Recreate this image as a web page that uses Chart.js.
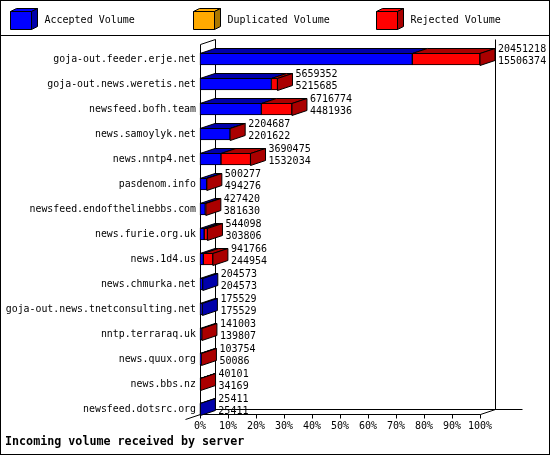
<!DOCTYPE html>
<html>
<head>
<meta charset="utf-8">
<script src="https://cdn.jsdelivr.net/npm/chart.js@4/dist/chart.umd.min.js"></script>
<style>
  html, body { margin: 0; padding: 0; background: #fff; }
  #wrap { width: 550px; height: 455px; }
</style>
</head>
<body>
<div id="wrap"><canvas id="volumeChart" width="550" height="455"></canvas></div>
<script>
// Servers feeding us, with offered (total) and accepted volume in bytes
const servers = [
    'goja-out.feeder.erje.net', 'goja-out.news.weretis.net', 'newsfeed.bofh.team',
    'news.samoylyk.net', 'news.nntp4.net', 'pasdenom.info',
    'newsfeed.endofthelinebbs.com', 'news.furie.org.uk', 'news.1d4.us',
    'news.chmurka.net', 'goja-out.news.tnetconsulting.net', 'nntp.terraraq.uk',
    'news.quux.org', 'news.bbs.nz', 'newsfeed.dotsrc.org'
];
const offeredVolume = [20451218, 5659352, 6716774, 2204687, 3690475, 500277, 427420, 544098,
    941766, 204573, 175529, 141003, 103754, 40101, 25411];
const acceptedVolume = [15506374, 5215685, 4481936, 2201622, 1532034, 494276, 381630, 303806,
    244954, 204573, 175529, 139807, 50086, 34169, 25411];
const duplicatedVolume = [0, 0, 0, 0, 0, 0, 0, 0, 0, 0, 0, 0, 0, 0, 0];
const xTicks = [0, 10, 20, 30, 40, 50, 60, 70, 80, 90, 100];

const MONO = '"DejaVu Sans Mono", "Liberation Mono", monospace';
const DX = 15, DY = 5;   // 3d depth of the bars

// bars are scaled against the biggest offered volume
const maxOffered = Math.max(...offeredVolume);
const pct = v => v / maxOffered * 100;
const rejectedVolume = offeredVolume.map((v, i) => v - acceptedVolume[i] - duplicatedVolume[i]);

function poly(ctx, pts, fill) {
    ctx.beginPath();
    ctx.moveTo(pts[0][0], pts[0][1]);
    for (let k = 1; k < pts.length; k++) ctx.lineTo(pts[k][0], pts[k][1]);
    ctx.closePath();
    ctx.fillStyle = fill;
    ctx.fill();
    ctx.stroke();
}

function line(ctx, x1, y1, x2, y2) {
    ctx.beginPath();
    ctx.moveTo(x1, y1);
    ctx.lineTo(x2, y2);
    ctx.stroke();
}

const boxPlugin = {
    id: 'box3d',
    beforeDatasetsDraw(chart) {
        const { ctx, chartArea: a } = chart;
        const x = chart.scales.x;
        const L = Math.round(a.left) + 0.5, R = Math.round(a.right) + 0.5;
        const yF = Math.round(a.bottom) + 5.5, yB = yF - DY;
        const top = Math.round(a.top) - 14.5;
        ctx.save();
        ctx.strokeStyle = '#000';
        ctx.lineWidth = 1;
        line(ctx, L, top, L, yF);                 // front axis
        line(ctx, L + DX, top - DY, L + DX, yB);  // back wall
        line(ctx, R + DX, top - DY, R + DX, yB);  // right wall
        line(ctx, L, top, L + DX, top - DY);
        line(ctx, L, yF, R, yF);                  // floor front
        line(ctx, L + DX, yB, R + 42, yB);        // floor back
        line(ctx, L - DX, yF + DY, L + DX, yB);
        line(ctx, R, yF, R + DX, yB);
        xTicks.forEach(t => {
            const px = Math.round(x.getPixelForValue(t)) + 0.5;
            line(ctx, px, yF, px, yF + 4);
        });
        ctx.restore();
    },
    afterDatasetsDraw(chart) {
        const { ctx } = chart;
        ctx.save();
        ctx.strokeStyle = '#000';
        ctx.lineWidth = 1;
        chart.data.labels.forEach((lbl, i) => {
            let last = null, endX = 0, yc = 0;
            chart.data.datasets.forEach((ds, d) => {
                const el = chart.getDatasetMeta(d).data[i];
                const p = el.getProps(['x', 'base', 'y', 'height'], true);
                yc = p.y;
                if (!ds.data[i]) return;
                const t = Math.round(p.y - p.height / 2) + 0.5;
                poly(ctx, [[p.base, t], [p.x, t], [p.x + DX, t - DY], [p.base + DX, t - DY]], ds.sideColor);
                last = { ds, p, t };
                endX = Math.max(endX, p.x);
            });
            if (last) {
                const { ds, p, t } = last;
                const b = t + p.height;
                poly(ctx, [[p.x, t], [p.x + DX, t - DY], [p.x + DX, b - DY], [p.x, b]], ds.sideColor);
            }
            ctx.fillStyle = '#000';
            ctx.font = '10px ' + MONO;
            ctx.textAlign = 'left';
            ctx.textBaseline = 'middle';
            ctx.fillText(String(offeredVolume[i]), endX + DX + 3, yc - 10);
            ctx.fillText(String(acceptedVolume[i]), endX + DX + 3, yc + 2);
        });
        ctx.restore();
    },
    afterDraw(chart) {
        const { ctx } = chart;
        ctx.save();
        ctx.strokeStyle = '#000';
        ctx.lineWidth = 1;
        ctx.strokeRect(0.5, 0.5, 549, 454);
        line(ctx, 0, 35.5, 550, 35.5);
        // legend with little cubes
        const lx = [10.5, 193.5, 376.5];
        chart.data.datasets.forEach((ds, d) => {
            const x0 = lx[d], y0 = 11.5, w = 21, h = 18;
            poly(ctx, [[x0, y0], [x0 + w, y0], [x0 + w, y0 + h], [x0, y0 + h]], ds.backgroundColor);
            poly(ctx, [[x0, y0], [x0 + 6, y0 - 3], [x0 + w + 6, y0 - 3], [x0 + w, y0]], ds.backgroundColor);
            poly(ctx, [[x0 + w, y0], [x0 + w + 6, y0 - 3], [x0 + w + 6, y0 + h - 3], [x0 + w, y0 + h]], ds.sideColor);
            ctx.fillStyle = '#000';
            ctx.font = '10px ' + MONO;
            ctx.textAlign = 'left';
            ctx.textBaseline = 'middle';
            ctx.fillText(ds.label, x0 + 34, 20.5);
        });
        ctx.restore();
    }
};

const ctx = document.getElementById('volumeChart').getContext('2d');
const volumeChart = new Chart(ctx, {
    type: 'bar',
    data: {
        labels: servers,
        datasets: [
            { label: 'Accepted Volume', data: acceptedVolume.map(pct), backgroundColor: '#0000ff', sideColor: '#0000aa' },
            { label: 'Duplicated Volume', data: duplicatedVolume.map(pct), backgroundColor: '#ffaa00', sideColor: '#aa7700' },
            { label: 'Rejected Volume', data: rejectedVolume.map(pct), backgroundColor: '#ff0000', sideColor: '#aa0000' }
        ]
    },
    options: {
        indexAxis: 'y',
        responsive: false,
        animation: false,
        layout: { padding: { left: 5, right: 70, top: 59, bottom: 2 } },
        datasets: {
            bar: { barThickness: 12, borderWidth: 1, borderColor: '#000', borderSkipped: false, clip: false }
        },
        plugins: {
            legend: { display: false },
            tooltip: { enabled: false },
            title: {
                display: true,
                position: 'bottom',
                align: 'start',
                text: 'Incoming volume received by server',
                color: '#000',
                font: { family: MONO, size: 11.7, weight: 'bold' },
                padding: { top: 2, bottom: 4 }
            }
        },
        scales: {
            x: {
                stacked: true,
                min: 0,
                max: 100,
                grid: { display: false, drawTicks: false },
                border: { display: false },
                afterBuildTicks: s => { s.ticks = xTicks.map(v => ({ value: v })); },
                afterFit: s => { s.height = 24; },
                ticks: {
                    color: '#000',
                    padding: 11,
                    maxRotation: 0,
                    autoSkip: false,
                    font: { family: MONO, size: 10 },
                    callback: v => v + '%'
                }
            },
            y: {
                stacked: true,
                offset: false,
                grid: { display: false, drawTicks: false },
                border: { display: false },
                afterFit: s => { s.width = 195; },
                ticks: {
                    color: '#000',
                    padding: 4,
                    autoSkip: false,
                    font: { family: MONO, size: 9.9 }
                }
            }
        }
    },
    plugins: [boxPlugin]
});
</script>
</body>
</html>
